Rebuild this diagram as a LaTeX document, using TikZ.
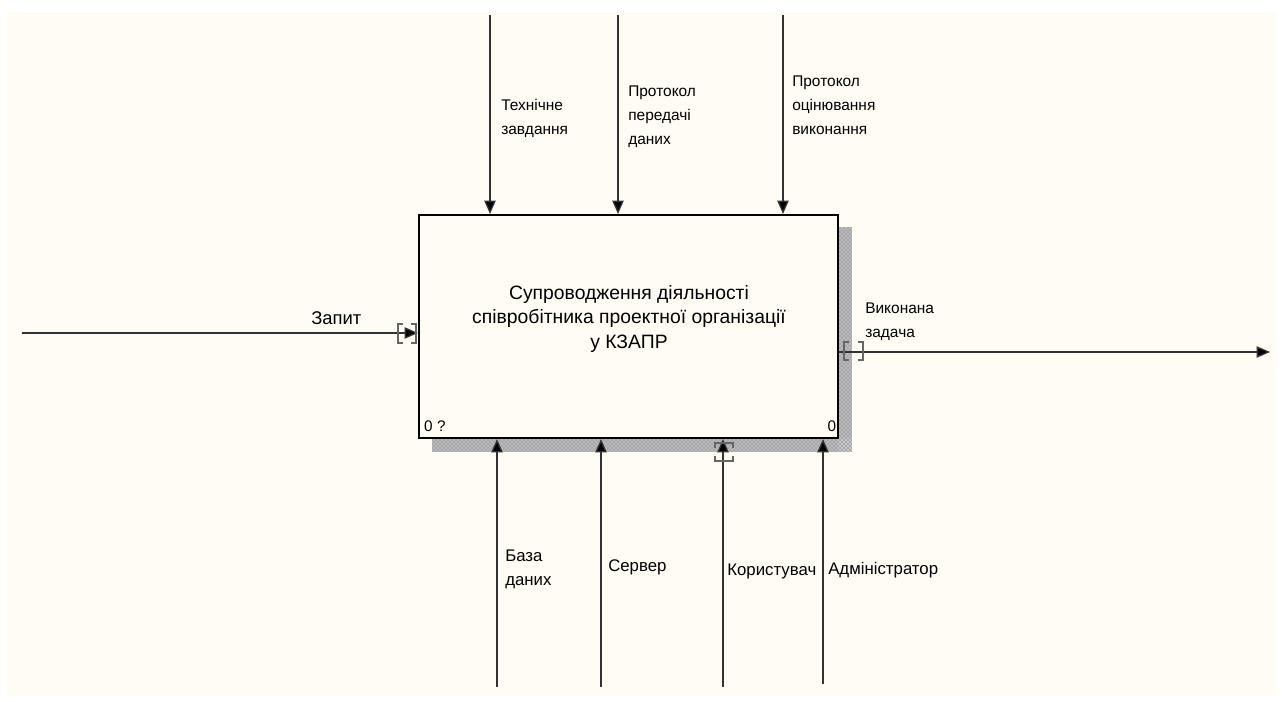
\documentclass[tikz,border=0pt]{standalone}
\usepackage{fontspec}
\setmainfont{Liberation Sans}
\usepackage{tikz}
\usetikzlibrary{arrows.meta,positioning,patterns}
\definecolor{cream}{RGB}{255,252,243}
\definecolor{darkline}{RGB}{50,50,50}

\begin{document}
\begin{tikzpicture}[x=0.75pt,y=-0.75pt,
    arr/.style={-{Triangle[length=10pt,width=8.5pt,fill=black]}, line width=1pt, darkline},
    toplbl/.style={anchor=north west, inner sep=0pt, align=left, font=\fontsize{11.6}{18}\selectfont},
    botlbl/.style={anchor=north west, inner sep=0pt, align=left, font=\fontsize{12.6}{18}\selectfont},
    tun/.style={line width=0.8pt, black!60},
    funcbox/.style={draw, line width=1.8pt, fill=cream, minimum width=314pt, minimum height=167pt, inner sep=0pt}]
          % Page and background
          \useasboundingbox (0,0) rectangle (1282,702);
          \fill[white] (0,0) rectangle (1282,702);
          \fill[cream] (7,12) rectangle (1276,696);
          % Shadow of the box
          \fill[black!35] (838,227) rectangle (852,452);
          \fill[black!35] (432,438) rectangle (852,452);
          \fill[pattern=crosshatch dots, pattern color=white] (838,227) rectangle (852,452);
          \fill[pattern=crosshatch dots, pattern color=white] (432,438) rectangle (852,452);
          % Function box
          \node[funcbox] (fn) at (628.5,326.5) {};
          \node[align=center, inner sep=0pt, font=\fontsize{14.5}{18.2}\selectfont] (fntext) at (629,319) {Супроводження діяльності\\співробітника проектної організації\\у КЗАПР};
          \node[anchor=base west, inner sep=0pt, font=\fontsize{11.5}{13}\selectfont] (fnid) at ([xshift=4.5pt,yshift=6pt]fn.south west) {0 ?};
          \node[anchor=base east, inner sep=0pt, font=\fontsize{11.5}{13}\selectfont] (fnnum) at ([xshift=-2pt,yshift=6pt]fn.south east) {0};
          % Controls (top)
          \coordinate (ctl1) at (490,15);
          \coordinate (ctl2) at (618,15);
          \coordinate (ctl3) at (783,15);
          \draw[arr] (ctl1) -- (ctl1 |- fn.north);
          \draw[arr] (ctl2) -- (ctl2 |- fn.north);
          \draw[arr] (ctl3) -- (ctl3 |- fn.north);
          \node[toplbl] (ctl1lbl) at (501,99) {Технічне\\завдання};
          \node[toplbl] (ctl2lbl) at (628,86) {Протокол\\передачі\\даних};
          \node[toplbl] (ctl3lbl) at (792,76) {Протокол\\оцінювання\\виконання};
          % Input
          \coordinate (inp) at (22,333);
          \draw[arr] (inp) -- (inp -| fn.west);
          \node[anchor=base west, inner sep=0pt, font=\fontsize{13.8}{15}\selectfont] (inplbl) at (311,325) {Запит};
          \draw[tun] (403,324) -- (398,324) -- (398,343) -- (403,343);
          \draw[tun] (411,324) -- (416,324) -- (416,343) -- (411,343);
          % Output
          \coordinate (outp) at (1270,352);
          \draw[arr] (outp -| fn.east) -- (outp);
          \node[toplbl] (outlbl) at (865,303) {Виконана\\задача};
          \draw[tun] (849,342) -- (844,342) -- (844,360) -- (849,360);
          \draw[tun] (858,342) -- (863,342) -- (863,360) -- (858,360);
          % Mechanisms (bottom)
          \coordinate (mech1) at (497,687);
          \coordinate (mech2) at (601,687);
          \coordinate (mech3) at (723,687);
          \coordinate (mech4) at (823,684);
          \draw[arr] (mech1) -- (mech1 |- fn.south);
          \draw[arr] (mech2) -- (mech2 |- fn.south);
          \draw[arr] (mech3) -- (mech3 |- fn.south);
          \draw[arr] (mech4) -- (mech4 |- fn.south);
          \node[botlbl] (mech1lbl) at (505,550) {База\\даних};
          \node[botlbl] (mech2lbl) at (608,560) {Сервер};
          \node[botlbl] (mech3lbl) at (727,564) {Користувач};
          \node[botlbl] (mech4lbl) at (828,562) {Адміністратор};
          \draw[tun] (715,448) -- (715,443) -- (733,443) -- (733,448);
          \draw[tun] (715,456) -- (715,461) -- (733,461) -- (733,456);
\end{tikzpicture}
\end{document}
